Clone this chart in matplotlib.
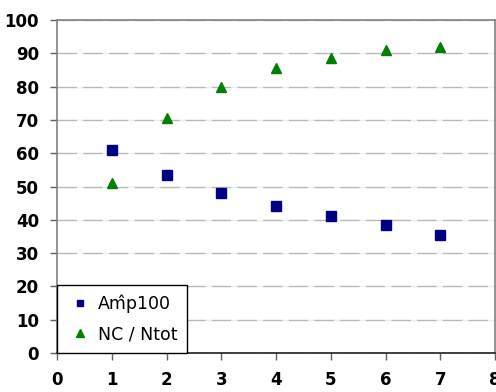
import numpy as np
import matplotlib
matplotlib.use("Agg")
import matplotlib.pyplot as plt

# data
x = [1, 2, 3, 4, 5, 6, 7]
amp100 = [61, 53.5, 48, 44, 41, 38.3, 35.5]
nc_ntot = [51, 70.5, 80, 85.5, 88.5, 91, 92]
labels = ["Am\u0302p100", "NC / Ntot"]

plt.rcParams['font.family'] = ['DejaVu Sans']

fig = plt.figure(figsize=(4.96, 3.92), dpi=100)
ax = fig.add_axes([57/496, 39/392, 438/496, 333/392])

ax.plot(x, amp100, ls='none', marker='s', ms=6.5, color='#000080', label=labels[0])
ax.plot(x, nc_ntot, ls='none', marker='^', ms=7.5, color='#008000', label=labels[1])

ax.set_xlim(0, 8)
ax.set_ylim(0, 100)
ax.set_xticks(range(0, 9))
ax.set_yticks(range(0, 101, 10))

# grey dashes with pale blue gaps, like the original
ax.yaxis.grid(True, color='#b8b8b8', lw=1, linestyle=(0, (14, 4.5)), gapcolor='#dcf4ff')
ax.set_axisbelow(True)

for side in ['top', 'right', 'left']:
    ax.spines[side].set_color('#808080')
    ax.spines[side].set_linewidth(1.2)
ax.spines['bottom'].set_color('#202020')
ax.spines['bottom'].set_linewidth(1.2)

ax.tick_params(direction='out', length=5, width=1, color='#606060', pad=8)
for lab in ax.get_xticklabels() + ax.get_yticklabels():
    lab.set_fontweight('bold')
    lab.set_fontsize(12)

leg = ax.legend(loc='lower left', bbox_to_anchor=(0, 0), borderaxespad=0,
                fancybox=False, edgecolor='black', framealpha=1,
                handlelength=1.5, handletextpad=0.3, markerscale=0.75,
                borderpad=0.55, labelspacing=0.7, fontsize=12.5)
leg.get_frame().set_linewidth(1)

fig.savefig("out.png", dpi=100)
